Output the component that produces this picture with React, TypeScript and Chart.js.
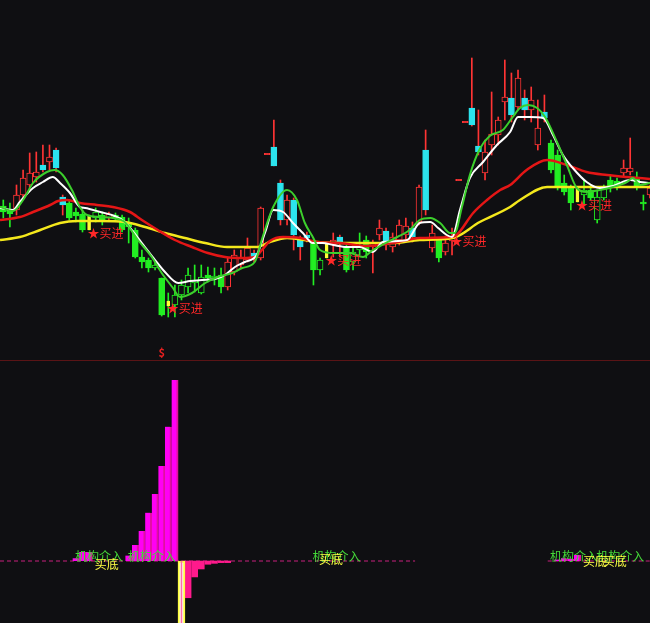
import React, { useEffect, useRef } from 'react';
import { Chart, registerables } from 'chart.js';
Chart.register(...registerables);

const BG = '#0f0f12';
const RED = '#ff3434';
const GREEN = '#22ee22';
const CYAN = '#2ce4ee';
const YELLOW = '#ffff33';

// ---------- candle data (index 0..98) ----------
const TYPES = [
  'd','d','u','u','u','u','c','u','c','c',
  'd','d','d','y','h','d','u','d','d','d',
  'd','d','d','h','d','y','h','h','h','h',
  'h','d','h','d','u','u','u','u','c','u',
  'u','c','c','u','c','c','c','d','h','y',
  'u','c','d','h','h','d','u','u','c','u',
  'u','u','c','u','c','u','d','u','u','u',
  'u','c','c','u','u','u','u','c','u','c',
  'u','u','c','d','d','d','d','y','h','d',
  'h','h','d','d','u','u','d','d','u',
];
const OPEN = [
  15.4,15.0,15.0,16.5,17.5,18.3,19.5,19.8,21.0,16.3,
  15.7,14.8,14.6,14.5,14.2,14.5,14.2,14.5,14.3,13.7,
  13.0,10.3,10.0,9.2,8.2,5.9,5.5,6.5,7.3,7.7,
  6.7,8.5,8.2,8.5,7.3,8.8,9.5,10.0,10.7,10.2,
  20.6,21.3,17.7,14.0,16.0,12.2,12.5,11.8,9.0,11.7,
  11.5,12.3,11.3,9.8,11.0,12.0,11.3,12.5,12.9,11.3,
  12.0,12.5,13.2,13.8,21.0,11.2,12.0,10.8,11.9,18.0,
  23.8,25.2,21.4,18.7,21.5,22.5,25.8,26.2,25.3,26.2,
  25.0,21.5,24.8,21.7,20.5,17.7,17.2,17.3,16.5,17.0,
  14.0,16.2,18.0,17.9,18.7,18.8,18.3,15.8,16.5,
];
const CLOSE = [
  14.8,14.6,16.5,18.2,18.7,18.8,19.0,20.3,19.2,15.5,
  14.2,14.4,13.0,13.0,14.8,14.0,14.6,14.2,13.0,13.3,
  10.3,9.8,9.2,9.5,4.5,5.4,6.5,7.5,8.5,8.0,
  8.3,8.2,8.4,7.3,9.8,10.5,10.2,11.2,10.2,15.2,
  20.6,19.4,14.0,16.0,12.5,11.3,12.2,9.0,10.0,10.2,
  12.0,11.8,9.0,10.8,11.5,10.8,11.7,13.2,11.5,12.3,
  13.5,13.4,12.3,17.3,15.0,12.7,10.2,11.7,12.2,18.0,
  23.8,23.5,20.8,20.8,22.6,24.0,26.3,24.5,28.2,25.0,
  26.0,23.2,24.2,19.0,17.3,16.8,15.7,15.8,17.0,16.2,
  16.3,17.2,17.3,17.3,19.2,19.2,17.3,15.6,17.2,
];
const HIGH = [
  16.0,15.7,17.5,19.0,20.7,20.8,21.5,21.5,21.2,16.5,
  16.0,15.2,15.0,14.5,15.2,14.8,14.8,14.7,14.5,14.2,
  13.2,11.0,10.2,9.8,8.2,6.7,7.5,8.0,9.2,9.5,
  9.5,9.3,9.2,9.2,10.2,11.0,11.0,12.2,11.0,15.3,
  20.6,24.0,18.0,16.5,16.2,12.4,12.8,12.0,10.2,11.7,
  12.7,12.5,11.5,11.5,12.7,12.4,12.0,14.0,13.2,12.7,
  14.0,14.2,13.8,17.5,23.0,13.5,12.2,12.4,13.2,18.0,
  23.8,30.2,25.0,22.0,26.8,24.3,30.0,28.7,29.0,27.0,
  27.3,26.0,26.5,22.0,21.0,18.5,17.5,17.3,18.0,17.5,
  17.0,17.5,18.5,18.2,20.0,22.2,18.8,16.5,17.5,
];
const LOW = [
  14.2,13.3,14.5,16.0,17.0,17.8,18.8,19.0,18.8,14.5,
  14.0,13.8,12.8,13.0,13.8,13.5,13.9,13.9,12.8,11.7,
  10.2,9.2,8.8,9.0,4.4,4.3,4.3,6.0,6.7,6.8,
  6.6,7.8,7.5,6.7,7.0,8.5,9.2,9.8,9.8,10.0,
  20.6,19.4,13.5,13.5,11.0,10.0,11.8,7.5,8.5,10.2,
  10.3,10.3,8.8,9.0,10.5,10.2,8.7,12.0,11.0,10.8,
  11.5,12.0,11.8,13.5,14.5,10.8,9.8,10.5,10.5,18.0,
  23.8,23.4,20.5,18.0,20.5,21.5,24.0,23.8,25.0,24.0,
  23.8,21.0,23.8,18.7,17.0,16.5,15.0,15.8,15.5,16.0,
  13.7,16.0,16.8,17.0,18.4,18.5,17.0,15.0,16.2,
];

// ---------- moving-average style lines: [index, price] ----------
const WHITE_LINE: [number, number][] = [
  [-0.5,15.2],[1.5,15.0],[2.5,15.8],[4.5,17.2],[6.0,17.8],[7.5,18.3],[8.6,17.7],[10.1,16.7],[11.6,15.3],[12.4,15.2],
  [14.7,14.8],[16.9,14.4],[18.4,13.8],[21.0,11.7],[23.0,10.0],[24.5,8.8],[26.5,7.7],[28.3,7.9],[30.1,8.0],[32.1,8.1],
  [33.6,8.5],[35.1,9.3],[36.6,9.8],[38.4,10.5],[39.7,12.8],[40.9,15.0],[42.4,14.8],[43.9,13.7],[45.4,12.7],[46.9,11.7],
  [48.4,11.7],[50.0,11.5],[52.1,11.3],[54.0,11.3],[56.0,10.8],[57.5,11.8],[61.2,12.0],[63.1,13.7],[64.7,13.8],[65.9,13.2],
  [67.2,12.5],[68.0,12.3],[69.2,15.0],[70.7,18.2],[72.7,19.8],[74.8,21.5],[76.8,22.8],[78.0,24.3],[79.8,24.3],[81.8,24.2],
  [83.3,22.5],[84.8,20.5],[86.3,19.2],[88.4,17.8],[90.4,17.2],[92.4,17.4],[95.0,18.0],[96.5,17.8],[98.0,17.7],
];
const GREEN_LINE: [number, number][] = [
  [-0.5,15.3],[1.5,14.9],[3.0,16.0],[4.5,17.7],[6.6,18.8],[7.8,19.0],[9.0,18.5],[10.4,17.0],[11.6,15.3],[12.7,14.5],
  [14.7,14.3],[16.6,14.2],[18.4,13.8],[20.4,12.0],[22.5,10.3],[24.0,8.7],[25.6,7.3],[26.8,6.3],[28.6,6.7],[30.6,7.7],
  [32.5,8.3],[34.7,8.7],[36.2,9.2],[38.1,9.8],[39.3,12.3],[40.9,15.3],[43.0,17.0],[44.5,16.0],[45.7,13.7],[46.9,12.3],
  [48.0,11.0],[50.0,10.7],[52.5,10.7],[54.5,10.3],[56.0,11.0],[57.1,11.4],[59.7,12.3],[61.6,13.0],[63.1,14.0],[64.7,14.2],
  [66.2,13.7],[67.7,12.7],[68.4,12.7],[69.5,15.3],[70.7,18.5],[72.2,21.1],[73.7,22.4],[75.7,23.0],[77.2,24.3],[78.3,25.2],
  [79.5,25.5],[80.9,25.2],[82.1,24.3],[83.9,21.8],[85.4,19.5],[86.9,17.2],[88.4,16.8],[90.4,17.0],[92.4,17.3],[94.5,17.8],
  [95.4,18.2],[96.5,17.5],[98.0,17.7],
];
const RED_LINE: [number, number][] = [
  [-0.5,14.0],[2.5,14.3],[4.5,14.8],[7.1,15.5],[8.3,15.9],[9.7,16.0],[11.6,15.7],[14.2,15.5],[16.6,15.3],[19.2,14.8],
  [21.0,14.0],[23.4,13.0],[26.0,12.0],[28.6,11.3],[31.0,10.7],[33.6,10.3],[36.2,10.2],[38.1,10.3],[39.2,11.0],[40.4,11.9],
  [42.4,12.3],[45.0,12.2],[47.5,11.8],[51.0,11.7],[55.1,11.4],[59.0,11.7],[63.1,12.2],[67.7,12.3],[68.7,12.5],[71.2,14.7],
  [73.3,16.0],[75.3,17.0],[76.8,17.5],[79.3,19.0],[82.4,20.0],[85.4,19.5],[88.4,18.8],[91.5,18.5],[94.5,18.3],[98.0,18.1],
];
const YELLOW_LINE: [number, number][] = [
  [-0.5,12.0],[2.5,12.3],[5.6,13.0],[8.6,13.7],[11.2,13.9],[14.7,13.9],[18.4,13.8],[21.5,13.3],[24.5,12.7],[27.5,12.2],
  [30.6,11.7],[33.9,11.3],[38.4,11.3],[40.4,11.8],[43.0,12.2],[47.5,11.8],[51.0,11.7],[59.0,11.7],[63.1,12.0],[68.1,12.2],
  [72.2,13.8],[76.8,15.3],[78.3,16.0],[82.4,17.3],[85.9,17.3],[90.9,17.3],[98.0,17.3],
];

// ---------- signal labels ----------
const BUY_IDX = [13, 25, 49, 68, 87];
const BUY_LEVEL = [12.7, 5.2, 10.0, 11.9, 15.5];
const BUY_TEXT = '★买进';
const DOLLAR_IDX = 24;
const DOLLAR_LEVEL = 0.7;

// ---------- lower panel ----------
const POS_IDX = [11, 12, 13, 19, 20, 21, 22, 23, 24, 25, 26, 84, 85, 86, 87];
const POS_VAL = [1.5, 5, 5, 3, 8.8, 16.6, 26.7, 37, 52.5, 74.2, 100, 0.8, 1.5, 1.2, 3.3];
const NEG_IDX = [28, 29, 30, 31, 32, 33, 34];
const NEG_VAL = [-20.3, -8.8, -4.4, -1.8, -1.3, -0.9, -0.9];
const SPIKE_IDX = 27;
const SPIKE_VAL = -40;
const DASH_SEGMENTS: [number, number][] = [[-0.5, 62.4], [82.5, 98]];
const JIGOU_IDX = [11, 19, 47, 83, 90];
const JIGOU_LEVEL = 2.8;
const JIGOU_TEXT = '机构介入';
const MAIDI_IDX = [14, 48, 88, 91];
const MAIDI_LEVEL = [-1.9, 1.1, -0.5, -0.5];
const MAIDI_TEXT = '买底';

const X_MIN = -0.5;
const X_MAX = 98;
const FONT = '"Noto Sans CJK SC", "Noto Sans", sans-serif';

function bodyRange(i: number): [number, number] {
  const o = OPEN[i], c = CLOSE[i];
  if (Math.abs(o - c) < 0.1) {
    const m = (o + c) / 2;
    return [m - 0.06, m + 0.06];
  }
  return [Math.min(o, c), Math.max(o, c)];
}

function topConfig(): any {
  const idx = TYPES.map((_, i) => i);
  const wicks = idx.map((i) => ({ x: i, y: [LOW[i], HIGH[i]] }));
  const wickColors = TYPES.map((t) => (t === 'u' || t === 'c' ? RED : GREEN));
  const bodySet = (type: string, fill: any, border: string, thickness: number, order: number) => {
    const ids = idx.filter((i) => TYPES[i] === type);
    return {
      type: 'bar',
      data: ids.map((i) => ({ x: i, y: bodyRange(i) })),
      backgroundColor: typeof fill === 'function' ? ids.map(fill) : fill,
      borderColor: border,
      borderWidth: 1,
      borderSkipped: false,
      barThickness: thickness,
      grouped: false,
      order,
    };
  };
  const lineSet = (pts: [number, number][], color: string, width: number, order: number) => ({
    type: 'line',
    data: pts.map(([x, y]) => ({ x, y })),
    borderColor: color,
    borderWidth: width,
    pointRadius: 0,
    cubicInterpolationMode: 'monotone',
    fill: false,
    order,
  });
  const labelPlugin = {
    id: 'topLabels',
    afterDatasetsDraw(chart: any) {
      const { ctx, scales } = chart;
      ctx.save();
      ctx.textBaseline = 'middle';
      ctx.textAlign = 'left';
      ctx.font = `12px ${FONT}`;
      ctx.fillStyle = '#ff2828';
      BUY_IDX.forEach((i, k) => {
        ctx.fillText(BUY_TEXT, scales.x.getPixelForValue(i) - 1.5, scales.y.getPixelForValue(BUY_LEVEL[k]));
      });
      ctx.textAlign = 'center';
      ctx.font = `bold 11px ${FONT}`;
      ctx.fillStyle = '#e82020';
      ctx.fillText('$', scales.x.getPixelForValue(DOLLAR_IDX), scales.y.getPixelForValue(DOLLAR_LEVEL));
      ctx.restore();
    },
  };
  return {
    type: 'bar',
    data: {
      datasets: [
        {
          type: 'bar',
          data: wicks,
          backgroundColor: wickColors,
          borderWidth: 0,
          barThickness: 1,
          grouped: false,
          order: 20,
        },
        bodySet('u', (i: number) => (Math.abs(OPEN[i] - CLOSE[i]) < 0.1 ? RED : BG), RED, 6, 15),
        bodySet('h', BG, GREEN, 6, 15),
        bodySet('d', GREEN, GREEN, 6, 15),
        bodySet('c', CYAN, CYAN, 6, 15),
        bodySet('y', YELLOW, YELLOW, 3, 14),
        lineSet(YELLOW_LINE, '#f4e81c', 2.5, 6),
        lineSet(RED_LINE, '#e41616', 2.5, 5),
        lineSet(WHITE_LINE, '#ffffff', 2, 4),
        lineSet(GREEN_LINE, '#3ccf2c', 2, 3),
      ],
    },
    options: {
      responsive: false,
      maintainAspectRatio: false,
      devicePixelRatio: 1,
      animation: false,
      layout: { padding: 0 },
      plugins: { legend: { display: false }, tooltip: { enabled: false } },
      scales: {
        x: { type: 'linear', min: X_MIN, max: X_MAX, offset: false, display: false },
        y: { type: 'linear', min: 0, max: 36, display: false },
      },
    },
    plugins: [labelPlugin],
  };
}

function bottomConfig(): any {
  const labelPlugin = {
    id: 'botLabels',
    afterDatasetsDraw(chart: any) {
      const { ctx, scales } = chart;
      ctx.save();
      ctx.textBaseline = 'middle';
      ctx.textAlign = 'left';
      ctx.font = `12px ${FONT}`;
      ctx.fillStyle = '#44d838';
      JIGOU_IDX.forEach((i) => {
        ctx.fillText(JIGOU_TEXT, scales.x.getPixelForValue(i) - 1, scales.y.getPixelForValue(JIGOU_LEVEL));
      });
      ctx.fillStyle = '#ffff44';
      MAIDI_IDX.forEach((i, k) => {
        ctx.fillText(MAIDI_TEXT, scales.x.getPixelForValue(i) - 1, scales.y.getPixelForValue(MAIDI_LEVEL[k]));
      });
      ctx.restore();
    },
  };
  const dashData: any[] = [];
  DASH_SEGMENTS.forEach(([a, b], k) => {
    if (k > 0) dashData.push({ x: (DASH_SEGMENTS[k - 1][1] + a) / 2, y: null });
    dashData.push({ x: a, y: 0 }, { x: b, y: 0 });
  });
  return {
    type: 'bar',
    data: {
      datasets: [
        {
          type: 'line',
          data: dashData,
          borderColor: '#c8207c',
          borderWidth: 1,
          borderDash: [4, 3],
          pointRadius: 0,
          spanGaps: false,
          order: 20,
        },
        {
          type: 'bar',
          data: POS_IDX.map((x, k) => ({ x, y: POS_VAL[k] })),
          backgroundColor: '#ff00f4',
          borderColor: '#e0129c',
          borderWidth: { left: 0, right: 2, top: 0, bottom: 0 },
          borderSkipped: false,
          barThickness: 6.6,
          grouped: false,
          order: 10,
        },
        {
          type: 'bar',
          data: NEG_IDX.map((x, k) => ({ x, y: NEG_VAL[k] })),
          backgroundColor: '#ff1a8c',
          borderWidth: 0,
          barThickness: 6,
          grouped: false,
          order: 10,
        },
        {
          type: 'bar',
          data: [{ x: SPIKE_IDX, y: SPIKE_VAL }],
          backgroundColor: '#ffffff',
          borderColor: '#ffff40',
          borderWidth: 2,
          borderSkipped: false,
          barThickness: 7,
          grouped: false,
          order: 9,
        },
        {
          type: 'bar',
          data: [{ x: SPIKE_IDX, y: SPIKE_VAL }],
          backgroundColor: '#ff70a8',
          borderWidth: 0,
          barThickness: 1,
          grouped: false,
          order: 8,
        },
      ],
    },
    options: {
      responsive: false,
      maintainAspectRatio: false,
      devicePixelRatio: 1,
      animation: false,
      layout: { padding: 0 },
      plugins: { legend: { display: false }, tooltip: { enabled: false } },
      scales: {
        x: { type: 'linear', min: X_MIN, max: X_MAX, offset: false, display: false },
        y: { type: 'linear', min: -34.25, max: 110.5, display: false },
      },
    },
    plugins: [labelPlugin],
  };
}

export default function App() {
  const topRef = useRef<HTMLCanvasElement>(null);
  const botRef = useRef<HTMLCanvasElement>(null);
  useEffect(() => {
    document.body.style.margin = '0';
    document.body.style.background = BG;
    const top = new Chart(topRef.current as HTMLCanvasElement, topConfig());
    const bot = new Chart(botRef.current as HTMLCanvasElement, bottomConfig());
    return () => {
      top.destroy();
      bot.destroy();
    };
  }, []);
  return (
    <div style={{ position: 'relative', width: 650, height: 623, background: BG, overflow: 'hidden' }}>
      <div style={{ position: 'absolute', left: 0, top: 0, width: 650, height: 360 }}>
        <canvas ref={topRef} width={650} height={360} style={{ display: 'block' }} />
      </div>
      <div style={{ position: 'absolute', left: 0, top: 360, width: 650, height: 1, background: '#5a1416' }} />
      <div style={{ position: 'absolute', left: 0, top: 361, width: 650, height: 262 }}>
        <canvas ref={botRef} width={650} height={262} style={{ display: 'block' }} />
      </div>
    </div>
  );
}
